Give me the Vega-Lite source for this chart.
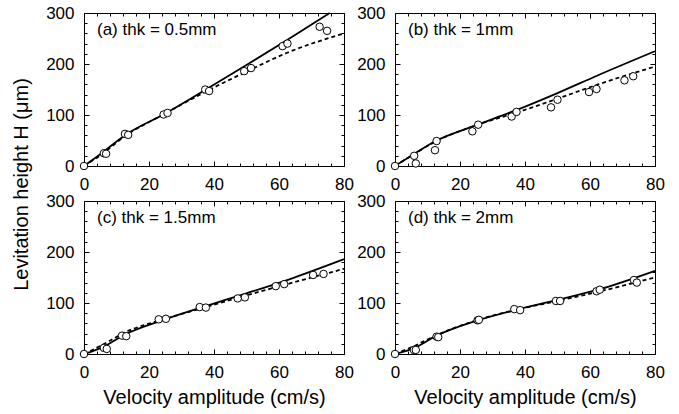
{
  "$schema": "https://vega.github.io/schema/vega-lite/v6.json",
  "padding": {"left": 11, "top": 3, "right": 5, "bottom": 5},
  "background": "white",
  "datasets": {
    "pts": [
      {"panel": "a", "v": 0, "h": 0}, {"panel": "a", "v": 6.1, "h": 25}, {"panel": "a", "v": 6.8, "h": 24},
      {"panel": "a", "v": 12.6, "h": 63}, {"panel": "a", "v": 13.6, "h": 61}, {"panel": "a", "v": 24.5, "h": 101},
      {"panel": "a", "v": 25.7, "h": 104}, {"panel": "a", "v": 37.3, "h": 150}, {"panel": "a", "v": 38.5, "h": 147},
      {"panel": "a", "v": 49.3, "h": 186}, {"panel": "a", "v": 51.4, "h": 192}, {"panel": "a", "v": 61.1, "h": 235},
      {"panel": "a", "v": 62.6, "h": 240}, {"panel": "a", "v": 72.5, "h": 273}, {"panel": "a", "v": 74.8, "h": 265},
      {"panel": "b", "v": 0, "h": 0}, {"panel": "b", "v": 5.9, "h": 20}, {"panel": "b", "v": 6.4, "h": 5},
      {"panel": "b", "v": 12.3, "h": 31}, {"panel": "b", "v": 12.8, "h": 49}, {"panel": "b", "v": 23.8, "h": 68},
      {"panel": "b", "v": 25.6, "h": 81}, {"panel": "b", "v": 35.9, "h": 97}, {"panel": "b", "v": 37.4, "h": 106},
      {"panel": "b", "v": 48, "h": 115}, {"panel": "b", "v": 50, "h": 130}, {"panel": "b", "v": 59.7, "h": 145},
      {"panel": "b", "v": 62, "h": 151}, {"panel": "b", "v": 70.6, "h": 168}, {"panel": "b", "v": 73.3, "h": 176},
      {"panel": "c", "v": 0, "h": 0}, {"panel": "c", "v": 6.1, "h": 12}, {"panel": "c", "v": 7.0, "h": 10},
      {"panel": "c", "v": 11.7, "h": 36}, {"panel": "c", "v": 13.0, "h": 35}, {"panel": "c", "v": 23.0, "h": 68},
      {"panel": "c", "v": 25.2, "h": 69}, {"panel": "c", "v": 35.6, "h": 92}, {"panel": "c", "v": 37.5, "h": 91},
      {"panel": "c", "v": 47.3, "h": 109}, {"panel": "c", "v": 49.5, "h": 111}, {"panel": "c", "v": 59.0, "h": 133},
      {"panel": "c", "v": 61.6, "h": 137}, {"panel": "c", "v": 70.5, "h": 155}, {"panel": "c", "v": 73.7, "h": 157},
      {"panel": "d", "v": 0, "h": 0}, {"panel": "d", "v": 5.8, "h": 8}, {"panel": "d", "v": 6.4, "h": 8},
      {"panel": "d", "v": 12.8, "h": 34}, {"panel": "d", "v": 13.3, "h": 33}, {"panel": "d", "v": 25.4, "h": 66},
      {"panel": "d", "v": 25.8, "h": 67}, {"panel": "d", "v": 36.7, "h": 88}, {"panel": "d", "v": 38.5, "h": 86},
      {"panel": "d", "v": 49.5, "h": 104}, {"panel": "d", "v": 50.8, "h": 104}, {"panel": "d", "v": 62, "h": 123},
      {"panel": "d", "v": 63, "h": 126}, {"panel": "d", "v": 73.5, "h": 145}, {"panel": "d", "v": 74.4, "h": 140}
    ],
    "fit": [
      {"panel": "a", "model": "solid", "v": 0, "h": 0}, {"panel": "a", "model": "solid", "v": 5, "h": 23},
      {"panel": "a", "model": "solid", "v": 12.5, "h": 60}, {"panel": "a", "model": "solid", "v": 25, "h": 103},
      {"panel": "a", "model": "solid", "v": 37.5, "h": 150}, {"panel": "a", "model": "solid", "v": 50, "h": 198},
      {"panel": "a", "model": "solid", "v": 62.5, "h": 247}, {"panel": "a", "model": "solid", "v": 75.6, "h": 300},
      {"panel": "a", "model": "dashed", "v": 0, "h": 0}, {"panel": "a", "model": "dashed", "v": 5, "h": 21},
      {"panel": "a", "model": "dashed", "v": 12.5, "h": 58}, {"panel": "a", "model": "dashed", "v": 25, "h": 103},
      {"panel": "a", "model": "dashed", "v": 37.5, "h": 146}, {"panel": "a", "model": "dashed", "v": 50, "h": 185},
      {"panel": "a", "model": "dashed", "v": 62.5, "h": 222}, {"panel": "a", "model": "dashed", "v": 80, "h": 260},
      {"panel": "b", "model": "solid", "v": 0, "h": 0}, {"panel": "b", "model": "solid", "v": 5, "h": 20},
      {"panel": "b", "model": "solid", "v": 12.5, "h": 49}, {"panel": "b", "model": "solid", "v": 25, "h": 80},
      {"panel": "b", "model": "solid", "v": 37.5, "h": 110}, {"panel": "b", "model": "solid", "v": 50, "h": 143},
      {"panel": "b", "model": "solid", "v": 62.5, "h": 178}, {"panel": "b", "model": "solid", "v": 80, "h": 225},
      {"panel": "b", "model": "dashed", "v": 0, "h": 0}, {"panel": "b", "model": "dashed", "v": 5, "h": 20},
      {"panel": "b", "model": "dashed", "v": 12.5, "h": 48}, {"panel": "b", "model": "dashed", "v": 25, "h": 80},
      {"panel": "b", "model": "dashed", "v": 37.5, "h": 105}, {"panel": "b", "model": "dashed", "v": 50, "h": 132},
      {"panel": "b", "model": "dashed", "v": 62.5, "h": 160}, {"panel": "b", "model": "dashed", "v": 80, "h": 195},
      {"panel": "c", "model": "solid", "v": 0, "h": 0}, {"panel": "c", "model": "solid", "v": 6, "h": 14},
      {"panel": "c", "model": "solid", "v": 12.5, "h": 38}, {"panel": "c", "model": "solid", "v": 25, "h": 68},
      {"panel": "c", "model": "solid", "v": 37.5, "h": 94}, {"panel": "c", "model": "solid", "v": 50, "h": 119},
      {"panel": "c", "model": "solid", "v": 62.5, "h": 145}, {"panel": "c", "model": "solid", "v": 80, "h": 186},
      {"panel": "c", "model": "dashed", "v": 0, "h": 0}, {"panel": "c", "model": "dashed", "v": 6, "h": 19},
      {"panel": "c", "model": "dashed", "v": 12.5, "h": 42}, {"panel": "c", "model": "dashed", "v": 25, "h": 69},
      {"panel": "c", "model": "dashed", "v": 37.5, "h": 92}, {"panel": "c", "model": "dashed", "v": 50, "h": 115},
      {"panel": "c", "model": "dashed", "v": 62.5, "h": 137}, {"panel": "c", "model": "dashed", "v": 80, "h": 167},
      {"panel": "d", "model": "solid", "v": 0, "h": 0}, {"panel": "d", "model": "solid", "v": 6, "h": 12},
      {"panel": "d", "model": "solid", "v": 12.5, "h": 35}, {"panel": "d", "model": "solid", "v": 25, "h": 65},
      {"panel": "d", "model": "solid", "v": 37.5, "h": 87}, {"panel": "d", "model": "solid", "v": 50, "h": 106},
      {"panel": "d", "model": "solid", "v": 62.5, "h": 126}, {"panel": "d", "model": "solid", "v": 80, "h": 163},
      {"panel": "d", "model": "dashed", "v": 0, "h": 0}, {"panel": "d", "model": "dashed", "v": 5, "h": 13},
      {"panel": "d", "model": "dashed", "v": 12.5, "h": 36}, {"panel": "d", "model": "dashed", "v": 25, "h": 66},
      {"panel": "d", "model": "dashed", "v": 37.5, "h": 87}, {"panel": "d", "model": "dashed", "v": 50, "h": 104},
      {"panel": "d", "model": "dashed", "v": 62.5, "h": 122}, {"panel": "d", "model": "dashed", "v": 80, "h": 150}
    ],
    "labels": [
      {"panel": "a", "label": "(a) thk = 0.5mm"},
      {"panel": "b", "label": "(b) thk = 1mm"},
      {"panel": "c", "label": "(c) thk = 1.5mm"},
      {"panel": "d", "label": "(d) thk = 2mm"}
    ]
  },
  "columns": 2,
  "bounds": "flush",
  "spacing": {"row": 35, "column": 51},
  "concat": [
    {
      "width": 260, "height": 153,
      "layer": [
        {"data": {"name": "fit"}, "transform": [{"filter": "datum.panel === 'a' && datum.model === 'solid'"}],
         "mark": {"type": "line", "color": "black", "strokeWidth": 1.8, "interpolate": "monotone"},
         "encoding": {
           "x": {"field": "v", "type": "quantitative", "scale": {"domain": [0, 80], "nice": false}, "axis": {"orient": "bottom", "values": [0, 20, 40, 60, 80], "tickSize": -5, "labelPadding": 15, "title": null}},
           "y": {"field": "h", "type": "quantitative", "scale": {"domain": [0, 300], "nice": false}, "axis": {"orient": "left", "values": [0, 100, 200, 300], "tickSize": -5, "labelPadding": 15, "title": "Levitation height H (μm)", "titleY": 171, "titlePadding": 14}}
         }},
        {"data": {"name": "fit"}, "transform": [{"filter": "datum.panel === 'a' && datum.model === 'dashed'"}],
         "mark": {"type": "line", "color": "black", "strokeWidth": 1.8, "strokeDash": [4, 3], "interpolate": "monotone"},
         "encoding": {
           "x": {"field": "v", "type": "quantitative", "scale": {"domain": [0, 80], "nice": false}, "axis": {"orient": "top", "values": [0, 20, 40, 60, 80], "tickSize": -5, "labels": false, "title": null}},
           "y": {"field": "h", "type": "quantitative", "scale": {"domain": [0, 300], "nice": false}, "axis": {"orient": "right", "values": [0, 100, 200, 300], "tickSize": -5, "labels": false, "title": null}}
         }},
        {"data": {"name": "pts"}, "transform": [{"filter": "datum.panel === 'a'"}],
         "mark": {"type": "point", "shape": "circle", "size": 56, "filled": true, "fill": "white", "stroke": "black", "strokeWidth": 1, "opacity": 1},
         "encoding": {
           "x": {"field": "v", "type": "quantitative", "scale": {"domain": [0, 80], "nice": false}, "axis": {"orient": "bottom", "values": [4, 8, 12, 16, 24, 28, 32, 36, 44, 48, 52, 56, 64, 68, 72, 76], "tickSize": -3, "labels": false, "title": null}},
           "y": {"field": "h", "type": "quantitative", "scale": {"domain": [0, 300], "nice": false}, "axis": {"orient": "left", "values": [20, 40, 60, 80, 120, 140, 160, 180, 220, 240, 260, 280], "tickSize": -3, "labels": false, "title": null}}
         }},
        {"data": {"name": "labels"}, "transform": [{"filter": "datum.panel === 'a'"}],
         "mark": {"type": "text", "align": "left", "baseline": "middle", "fontSize": 17, "font": "Liberation Sans", "color": "black"},
         "encoding": {
           "text": {"field": "label"},
           "x": {"datum": 4, "type": "quantitative", "scale": {"domain": [0, 80], "nice": false}, "axis": {"orient": "top", "values": [4, 8, 12, 16, 24, 28, 32, 36, 44, 48, 52, 56, 64, 68, 72, 76], "tickSize": -3, "labels": false, "title": null}},
           "y": {"datum": 267, "type": "quantitative", "scale": {"domain": [0, 300], "nice": false}, "axis": {"orient": "right", "values": [20, 40, 60, 80, 120, 140, 160, 180, 220, 240, 260, 280], "tickSize": -3, "labels": false, "title": null}}
         }}
      ],
      "resolve": {"axis": {"x": "independent", "y": "independent"}}
    },
    {
      "width": 260, "height": 153,
      "layer": [
        {"data": {"name": "fit"}, "transform": [{"filter": "datum.panel === 'b' && datum.model === 'solid'"}],
         "mark": {"type": "line", "color": "black", "strokeWidth": 1.8, "interpolate": "monotone"},
         "encoding": {
           "x": {"field": "v", "type": "quantitative", "scale": {"domain": [0, 80], "nice": false}, "axis": {"orient": "bottom", "values": [0, 20, 40, 60, 80], "tickSize": -5, "labelPadding": 15, "title": null}},
           "y": {"field": "h", "type": "quantitative", "scale": {"domain": [0, 300], "nice": false}, "axis": {"orient": "left", "values": [0, 100, 200, 300], "tickSize": -5, "labelPadding": 15, "title": null}}
         }},
        {"data": {"name": "fit"}, "transform": [{"filter": "datum.panel === 'b' && datum.model === 'dashed'"}],
         "mark": {"type": "line", "color": "black", "strokeWidth": 1.8, "strokeDash": [4, 3], "interpolate": "monotone"},
         "encoding": {
           "x": {"field": "v", "type": "quantitative", "scale": {"domain": [0, 80], "nice": false}, "axis": {"orient": "top", "values": [0, 20, 40, 60, 80], "tickSize": -5, "labels": false, "title": null}},
           "y": {"field": "h", "type": "quantitative", "scale": {"domain": [0, 300], "nice": false}, "axis": {"orient": "right", "values": [0, 100, 200, 300], "tickSize": -5, "labels": false, "title": null}}
         }},
        {"data": {"name": "pts"}, "transform": [{"filter": "datum.panel === 'b'"}],
         "mark": {"type": "point", "shape": "circle", "size": 56, "filled": true, "fill": "white", "stroke": "black", "strokeWidth": 1, "opacity": 1},
         "encoding": {
           "x": {"field": "v", "type": "quantitative", "scale": {"domain": [0, 80], "nice": false}, "axis": {"orient": "bottom", "values": [4, 8, 12, 16, 24, 28, 32, 36, 44, 48, 52, 56, 64, 68, 72, 76], "tickSize": -3, "labels": false, "title": null}},
           "y": {"field": "h", "type": "quantitative", "scale": {"domain": [0, 300], "nice": false}, "axis": {"orient": "left", "values": [20, 40, 60, 80, 120, 140, 160, 180, 220, 240, 260, 280], "tickSize": -3, "labels": false, "title": null}}
         }},
        {"data": {"name": "labels"}, "transform": [{"filter": "datum.panel === 'b'"}],
         "mark": {"type": "text", "align": "left", "baseline": "middle", "fontSize": 17, "font": "Liberation Sans", "color": "black"},
         "encoding": {
           "text": {"field": "label"},
           "x": {"datum": 4, "type": "quantitative", "scale": {"domain": [0, 80], "nice": false}, "axis": {"orient": "top", "values": [4, 8, 12, 16, 24, 28, 32, 36, 44, 48, 52, 56, 64, 68, 72, 76], "tickSize": -3, "labels": false, "title": null}},
           "y": {"datum": 267, "type": "quantitative", "scale": {"domain": [0, 300], "nice": false}, "axis": {"orient": "right", "values": [20, 40, 60, 80, 120, 140, 160, 180, 220, 240, 260, 280], "tickSize": -3, "labels": false, "title": null}}
         }}
      ],
      "resolve": {"axis": {"x": "independent", "y": "independent"}}
    },
    {
      "width": 260, "height": 153,
      "layer": [
        {"data": {"name": "fit"}, "transform": [{"filter": "datum.panel === 'c' && datum.model === 'solid'"}],
         "mark": {"type": "line", "color": "black", "strokeWidth": 1.8, "interpolate": "monotone"},
         "encoding": {
           "x": {"field": "v", "type": "quantitative", "scale": {"domain": [0, 80], "nice": false}, "axis": {"orient": "bottom", "values": [0, 20, 40, 60, 80], "tickSize": -5, "labelPadding": 15, "title": "Velocity amplitude (cm/s)", "titlePadding": 7}},
           "y": {"field": "h", "type": "quantitative", "scale": {"domain": [0, 300], "nice": false}, "axis": {"orient": "left", "values": [0, 100, 200, 300], "tickSize": -5, "labelPadding": 15, "title": null}}
         }},
        {"data": {"name": "fit"}, "transform": [{"filter": "datum.panel === 'c' && datum.model === 'dashed'"}],
         "mark": {"type": "line", "color": "black", "strokeWidth": 1.8, "strokeDash": [4, 3], "interpolate": "monotone"},
         "encoding": {
           "x": {"field": "v", "type": "quantitative", "scale": {"domain": [0, 80], "nice": false}, "axis": {"orient": "top", "values": [0, 20, 40, 60, 80], "tickSize": -5, "labels": false, "title": null}},
           "y": {"field": "h", "type": "quantitative", "scale": {"domain": [0, 300], "nice": false}, "axis": {"orient": "right", "values": [0, 100, 200, 300], "tickSize": -5, "labels": false, "title": null}}
         }},
        {"data": {"name": "pts"}, "transform": [{"filter": "datum.panel === 'c'"}],
         "mark": {"type": "point", "shape": "circle", "size": 56, "filled": true, "fill": "white", "stroke": "black", "strokeWidth": 1, "opacity": 1},
         "encoding": {
           "x": {"field": "v", "type": "quantitative", "scale": {"domain": [0, 80], "nice": false}, "axis": {"orient": "bottom", "values": [4, 8, 12, 16, 24, 28, 32, 36, 44, 48, 52, 56, 64, 68, 72, 76], "tickSize": -3, "labels": false, "title": null}},
           "y": {"field": "h", "type": "quantitative", "scale": {"domain": [0, 300], "nice": false}, "axis": {"orient": "left", "values": [20, 40, 60, 80, 120, 140, 160, 180, 220, 240, 260, 280], "tickSize": -3, "labels": false, "title": null}}
         }},
        {"data": {"name": "labels"}, "transform": [{"filter": "datum.panel === 'c'"}],
         "mark": {"type": "text", "align": "left", "baseline": "middle", "fontSize": 17, "font": "Liberation Sans", "color": "black"},
         "encoding": {
           "text": {"field": "label"},
           "x": {"datum": 4, "type": "quantitative", "scale": {"domain": [0, 80], "nice": false}, "axis": {"orient": "top", "values": [4, 8, 12, 16, 24, 28, 32, 36, 44, 48, 52, 56, 64, 68, 72, 76], "tickSize": -3, "labels": false, "title": null}},
           "y": {"datum": 267, "type": "quantitative", "scale": {"domain": [0, 300], "nice": false}, "axis": {"orient": "right", "values": [20, 40, 60, 80, 120, 140, 160, 180, 220, 240, 260, 280], "tickSize": -3, "labels": false, "title": null}}
         }}
      ],
      "resolve": {"axis": {"x": "independent", "y": "independent"}}
    },
    {
      "width": 260, "height": 153,
      "layer": [
        {"data": {"name": "fit"}, "transform": [{"filter": "datum.panel === 'd' && datum.model === 'solid'"}],
         "mark": {"type": "line", "color": "black", "strokeWidth": 1.8, "interpolate": "monotone"},
         "encoding": {
           "x": {"field": "v", "type": "quantitative", "scale": {"domain": [0, 80], "nice": false}, "axis": {"orient": "bottom", "values": [0, 20, 40, 60, 80], "tickSize": -5, "labelPadding": 15, "title": "Velocity amplitude (cm/s)", "titlePadding": 7}},
           "y": {"field": "h", "type": "quantitative", "scale": {"domain": [0, 300], "nice": false}, "axis": {"orient": "left", "values": [0, 100, 200, 300], "tickSize": -5, "labelPadding": 15, "title": null}}
         }},
        {"data": {"name": "fit"}, "transform": [{"filter": "datum.panel === 'd' && datum.model === 'dashed'"}],
         "mark": {"type": "line", "color": "black", "strokeWidth": 1.8, "strokeDash": [4, 3], "interpolate": "monotone"},
         "encoding": {
           "x": {"field": "v", "type": "quantitative", "scale": {"domain": [0, 80], "nice": false}, "axis": {"orient": "top", "values": [0, 20, 40, 60, 80], "tickSize": -5, "labels": false, "title": null}},
           "y": {"field": "h", "type": "quantitative", "scale": {"domain": [0, 300], "nice": false}, "axis": {"orient": "right", "values": [0, 100, 200, 300], "tickSize": -5, "labels": false, "title": null}}
         }},
        {"data": {"name": "pts"}, "transform": [{"filter": "datum.panel === 'd'"}],
         "mark": {"type": "point", "shape": "circle", "size": 56, "filled": true, "fill": "white", "stroke": "black", "strokeWidth": 1, "opacity": 1},
         "encoding": {
           "x": {"field": "v", "type": "quantitative", "scale": {"domain": [0, 80], "nice": false}, "axis": {"orient": "bottom", "values": [4, 8, 12, 16, 24, 28, 32, 36, 44, 48, 52, 56, 64, 68, 72, 76], "tickSize": -3, "labels": false, "title": null}},
           "y": {"field": "h", "type": "quantitative", "scale": {"domain": [0, 300], "nice": false}, "axis": {"orient": "left", "values": [20, 40, 60, 80, 120, 140, 160, 180, 220, 240, 260, 280], "tickSize": -3, "labels": false, "title": null}}
         }},
        {"data": {"name": "labels"}, "transform": [{"filter": "datum.panel === 'd'"}],
         "mark": {"type": "text", "align": "left", "baseline": "middle", "fontSize": 17, "font": "Liberation Sans", "color": "black"},
         "encoding": {
           "text": {"field": "label"},
           "x": {"datum": 4, "type": "quantitative", "scale": {"domain": [0, 80], "nice": false}, "axis": {"orient": "top", "values": [4, 8, 12, 16, 24, 28, 32, 36, 44, 48, 52, 56, 64, 68, 72, 76], "tickSize": -3, "labels": false, "title": null}},
           "y": {"datum": 267, "type": "quantitative", "scale": {"domain": [0, 300], "nice": false}, "axis": {"orient": "right", "values": [20, 40, 60, 80, 120, 140, 160, 180, 220, 240, 260, 280], "tickSize": -3, "labels": false, "title": null}}
         }}
      ],
      "resolve": {"axis": {"x": "independent", "y": "independent"}}
    }
  ],
  "config": {
    "view": {"stroke": "black", "strokeWidth": 1},
    "axis": {
      "labelFont": "Liberation Sans", "labelFontSize": 17, "labelColor": "black",
      "tickColor": "black", "tickWidth": 1, "domain": false, "grid": false,
      "labelFlush": false, "labelOverlap": false,
      "titleFont": "Liberation Sans", "titleFontSize": 20, "titleFontWeight": "normal", "titleColor": "black"
    },
    "text": {"font": "Liberation Sans"}
  }
}
